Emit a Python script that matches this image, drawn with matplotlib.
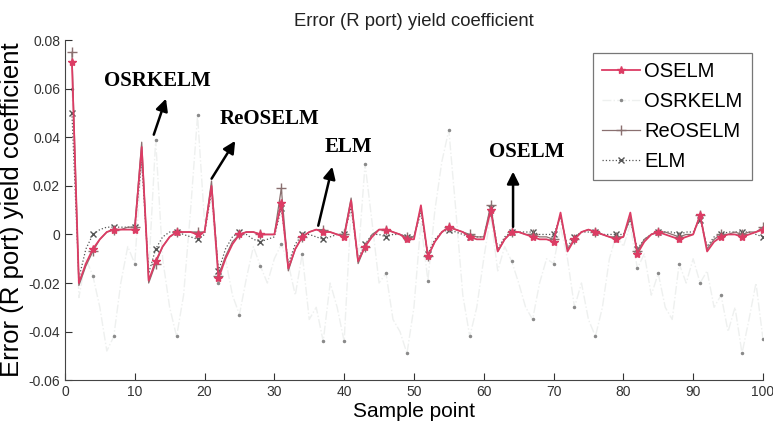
import matplotlib
matplotlib.use('Agg')
import matplotlib.pyplot as plt

plt.rcParams['font.family'] = ['Liberation Sans', 'DejaVu Sans']

# sample index 1..100
x = list(range(1, 101))

oselm = [0.071, -0.020, -0.012, -0.006, -0.002, 0.001, 0.002, 0.002, 0.002, 0.002,
         0.036, -0.019, -0.011, -0.005, -0.001, 0.001, 0.001, 0.001, 0.000, 0.001,
         0.020, -0.018, -0.010, -0.004, 0.000, 0.001, 0.001, 0.000, 0.000, 0.000,
         0.013, -0.014, -0.006, -0.001, 0.001, 0.002, 0.001, 0.001, 0.000, -0.001,
         0.014, -0.011, -0.005, -0.001, 0.002, 0.002, 0.001, 0.000, -0.002, -0.002,
         0.012, -0.009, -0.003, 0.001, 0.003, 0.002, 0.001, -0.001, -0.002, -0.002,
         0.010, -0.007, -0.002, 0.001, 0.001, 0.000, -0.001, -0.002, -0.002, -0.003,
         0.009, -0.007, -0.002, 0.001, 0.002, 0.001, 0.000, -0.001, -0.002, -0.001,
         0.009, -0.008, -0.003, 0.000, 0.001, 0.000, -0.001, -0.002, -0.001, 0.000,
         0.008, -0.007, -0.003, -0.001, 0.000, 0.000, -0.001, 0.000, 0.001, 0.002]

osrkelm = [0.060, -0.026, -0.010, -0.017, -0.030, -0.048, -0.042, -0.020, -0.005, -0.012,
           0.030, -0.015, 0.039, -0.010, -0.030, -0.042, -0.025, 0.010, 0.049, 0.005,
           0.015, -0.020, -0.010, -0.025, -0.033, -0.018, -0.005, -0.013, -0.020, -0.010,
           -0.004, -0.012, -0.025, -0.008, -0.035, -0.030, -0.044, -0.020, -0.030, -0.044,
           0.010, -0.010, 0.029, 0.005, -0.020, -0.016, -0.035, -0.040, -0.049, -0.030,
           0.005, -0.019, 0.010, 0.030, 0.043, 0.010, -0.025, -0.042, -0.030, -0.010,
           0.008, -0.015, -0.005, -0.011, -0.020, -0.030, -0.035, -0.020, -0.010, -0.012,
           0.003, -0.010, -0.030, -0.020, -0.035, -0.042, -0.030, -0.010, 0.000, -0.005,
           0.004, -0.014, -0.008, -0.025, -0.016, -0.030, -0.035, -0.012, -0.020, -0.010,
           -0.020, -0.015, -0.030, -0.025, -0.040, -0.030, -0.049, -0.035, -0.020, -0.043]

reoselm = [0.075, -0.021, -0.013, -0.007, -0.002, 0.001, 0.002, 0.002, 0.003, 0.003,
           0.038, -0.020, -0.012, -0.005, -0.001, 0.001, 0.001, 0.001, 0.001, 0.001,
           0.022, -0.017, -0.009, -0.003, 0.000, 0.001, 0.001, 0.000, 0.000, 0.000,
           0.019, -0.015, -0.006, -0.001, 0.001, 0.002, 0.002, 0.001, 0.000, 0.000,
           0.015, -0.012, -0.005, 0.000, 0.002, 0.002, 0.001, 0.000, -0.001, -0.001,
           0.011, -0.009, -0.003, 0.001, 0.003, 0.002, 0.001, 0.000, -0.001, -0.001,
           0.012, -0.007, -0.002, 0.001, 0.001, 0.000, 0.000, -0.001, -0.001, -0.002,
           0.008, -0.006, -0.002, 0.001, 0.002, 0.001, 0.000, -0.001, -0.001, -0.001,
           0.007, -0.007, -0.002, 0.000, 0.001, 0.001, 0.000, -0.001, 0.000, 0.000,
           0.008, -0.006, -0.002, 0.000, 0.000, 0.001, 0.000, 0.001, 0.001, 0.003]

elm = [0.050, -0.018, -0.006, 0.000, 0.002, 0.003, 0.003, 0.003, 0.003, 0.003,
       0.030, -0.016, -0.006, -0.001, 0.001, 0.001, 0.000, -0.001, -0.002, 0.000,
       0.018, -0.015, -0.006, -0.001, 0.001, 0.000, -0.002, -0.003, -0.002, -0.001,
       0.011, -0.012, -0.004, 0.000, 0.000, -0.001, -0.002, -0.001, 0.000, 0.000,
       0.011, -0.010, -0.004, 0.000, 0.000, -0.001, 0.000, 0.000, -0.001, -0.001,
       0.009, -0.008, -0.002, 0.001, 0.002, 0.001, 0.000, -0.001, -0.001, -0.001,
       0.011, -0.006, -0.001, 0.001, 0.001, 0.001, 0.001, 0.000, 0.000, 0.000,
       0.007, -0.005, -0.001, 0.001, 0.001, 0.001, 0.000, 0.000, 0.000, 0.000,
       0.006, -0.006, -0.002, 0.000, 0.001, 0.001, 0.001, 0.000, 0.001, 0.001,
       0.006, -0.005, -0.001, 0.000, 0.001, 0.001, 0.001, 0.001, 0.000, -0.001]

fig = plt.figure(figsize=(7.73, 4.32), dpi=100)
ax = fig.add_axes([0.084, 0.120, 0.903, 0.787])

# OSRKELM is almost washed out in the original, only its dots stand out
ax.plot(x, osrkelm, color='#eef0ef', lw=1.0, ls='-.', marker='.', ms=3,
        mfc='#8a8a8a', mec='#8a8a8a', markevery=3, label='OSRKELM', zorder=1)
ax.plot(x, elm, color='#555555', lw=0.9, ls=':', marker='x', ms=5,
        markevery=3, label='ELM', zorder=2)
ax.plot(x, reoselm, color='#8a7070', lw=0.9, ls='-', marker='+', ms=7,
        markevery=3, label='ReOSELM', zorder=3)
ax.plot(x, oselm, color='#dc3c64', lw=1.3, ls='-', marker='*', ms=6,
        markevery=3, label='OSELM', zorder=4)

ax.set_xlim(0, 100)
ax.set_ylim(-0.06, 0.08)
ax.set_xticks(range(0, 101, 10))
ax.set_yticks([-0.06, -0.04, -0.02, 0, 0.02, 0.04, 0.06, 0.08])
ax.set_yticklabels(['-0.06', '-0.04', '-0.02', '0', '0.02', '0.04', '0.06', '0.08'])
ax.tick_params(direction='in', labelsize=10, colors='#333333', length=5)
for s in ['top', 'right']:
    ax.spines[s].set_visible(False)
for s in ['left', 'bottom']:
    ax.spines[s].set_color('#444444')

ax.set_title('Error (R port) yield coefficient', fontsize=13.3, color='#222222', pad=10)
ax.set_xlabel('Sample point', fontsize=15, labelpad=2)
ax.set_ylabel('Error (R port) yield coefficient', fontsize=18.5, labelpad=3)

handles, labels = ax.get_legend_handles_labels()
order = [3, 0, 2, 1]
leg = ax.legend([handles[i] for i in order], [labels[i] for i in order],
                loc='upper right', bbox_to_anchor=(0.984, 0.962), borderaxespad=0,
                fontsize=14.5, fancybox=False, edgecolor='#555555', handlelength=1.9,
                handletextpad=0.2, borderpad=0.45, labelspacing=0.55)
leg.get_frame().set_linewidth(0.9)

# annotations with arrows
serif = dict(family=['Liberation Serif', 'DejaVu Serif'], fontsize=15, fontweight='bold')
arrow = dict(arrowstyle='-|>', color='black', lw=1.8, mutation_scale=18)
ax.annotate('', xy=(14.6, 0.057), xytext=(12.6, 0.040), arrowprops=arrow)
ax.text(13.2, 0.063, 'OSRKELM', ha='center', va='center', **serif)
ax.annotate('', xy=(24.6, 0.0395), xytext=(20.8, 0.022), arrowprops=arrow)
ax.text(29.3, 0.0475, 'ReOSELM', ha='center', va='center', **serif)
ax.annotate('', xy=(38.4, 0.029), xytext=(36.2, 0.0025), arrowprops=arrow)
ax.text(40.6, 0.036, 'ELM', ha='center', va='center', **serif)
ax.annotate('', xy=(64.2, 0.027), xytext=(64.2, 0.002), arrowprops=arrow)
ax.text(66.2, 0.034, 'OSELM', ha='center', va='center', **serif)

fig.savefig('out.png', dpi=100)
